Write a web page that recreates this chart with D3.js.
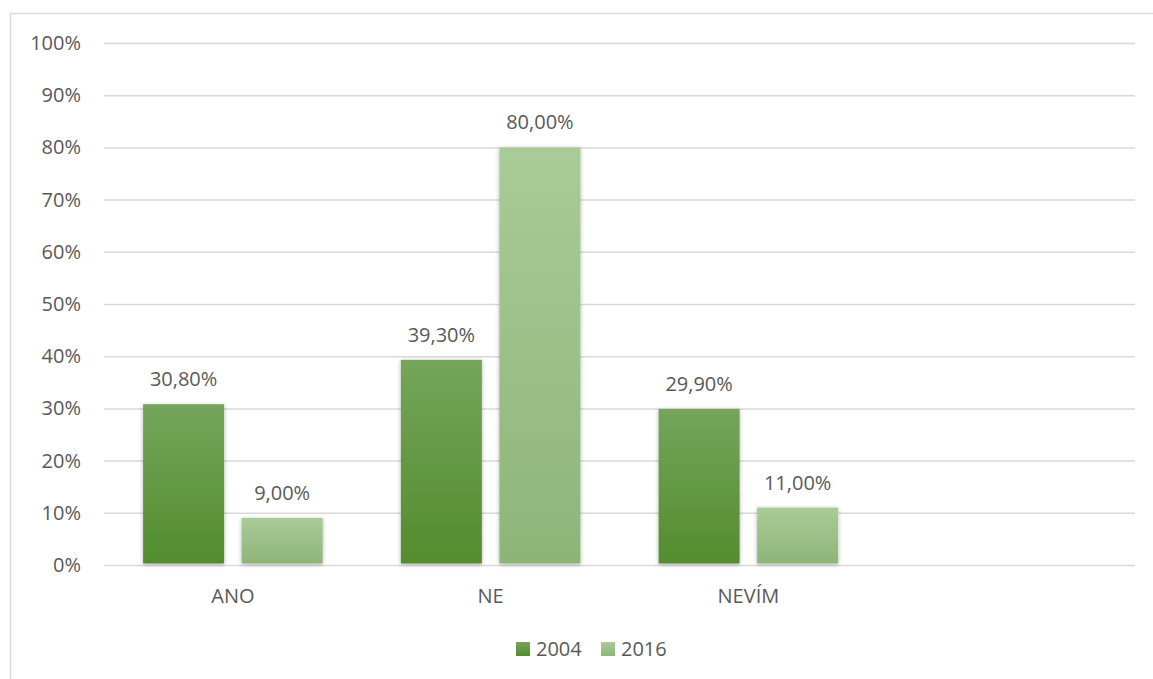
<!DOCTYPE html>
<html>
<head>
<meta charset="utf-8">
<script src="https://cdn.jsdelivr.net/npm/d3@7"></script>
<style>
  html, body { margin: 0; padding: 0; background: #fff; }
  svg { display: block; font-family: "Open Sans", "Noto Sans", sans-serif; }
</style>
</head>
<body>
<svg id="chart" width="1153" height="679"></svg>
<script>
const categories = ["ANO", "NE", "NEVÍM", ""];
const seriesNames = ["2004", "2016"];
const values2004 = [30.8, 39.3, 29.9, null];
const values2016 = [9.0, 80.0, 11.0, null];
const yTicks = [0, 10, 20, 30, 40, 50, 60, 70, 80, 90, 100];

const svg = d3.select("#chart");
const W = 1153, H = 679;
const textColor = "#595959";
const gridColor = "#d9d9d9";
const fontSize = 20;

// border of chart area
svg.append("rect").attr("x", 10.5).attr("y", 13.5).attr("width", W).attr("height", H)
  .attr("fill", "none").attr("stroke", gridColor).attr("stroke-width", 1.5);

const margin = { left: 104, right: 1135, top: 43, bottom: 565 };
const x = d3.scaleBand().domain(categories.map((c, i) => i)).range([margin.left, margin.right]).paddingInner(0).paddingOuter(0);
const y = d3.scaleLinear().domain([0, 100]).range([margin.bottom, margin.top]);

const defs = svg.append("defs");
const g1 = defs.append("linearGradient").attr("id", "grad2004").attr("x1", 0).attr("y1", 0).attr("x2", 0).attr("y2", 1);
g1.append("stop").attr("offset", "0%").attr("stop-color", "#74a55b");
g1.append("stop").attr("offset", "100%").attr("stop-color", "#548c2e");
const g2 = defs.append("linearGradient").attr("id", "grad2016").attr("x1", 0).attr("y1", 0).attr("x2", 0).attr("y2", 1);
g2.append("stop").attr("offset", "0%").attr("stop-color", "#a9cb98");
g2.append("stop").attr("offset", "100%").attr("stop-color", "#8db578");
const f = defs.append("filter").attr("id", "shadow").attr("x", "-20%").attr("y", "-10%").attr("width", "140%").attr("height", "120%");
f.append("feDropShadow").attr("dx", 0).attr("dy", 1).attr("stdDeviation", 2.2).attr("flood-color", "#000").attr("flood-opacity", 0.3);

// y axis with gridlines
const yAxis = d3.axisLeft(y).tickValues(yTicks).tickSize(-(margin.right - margin.left)).tickFormat(d => d + "%");
const ya = svg.append("g").attr("transform", `translate(${margin.left},0)`).call(yAxis);
ya.select(".domain").remove();
ya.selectAll(".tick line").attr("stroke", gridColor).attr("stroke-width", 1.5);
ya.selectAll(".tick text").attr("x", -23).attr("fill", textColor).attr("font-size", fontSize).attr("font-family", "'Open Sans', sans-serif");

// x axis
const xAxis = d3.axisBottom(x).tickSize(0).tickFormat(i => categories[i]);
const xa = svg.append("g").attr("transform", `translate(0,${margin.bottom})`).call(xAxis);
xa.select(".domain").remove();
xa.selectAll(".tick text").attr("y", 32).attr("dy", "0.32em").attr("fill", textColor).attr("font-size", fontSize).attr("font-family", "'Open Sans', sans-serif");

const x1 = d3.scaleBand().domain(seriesNames).range([0, x.bandwidth()]).paddingInner(0.178).paddingOuter(0.397);

const data = [];
categories.forEach((c, i) => {
  [values2004[i], values2016[i]].forEach((v, j) => {
    if (v != null) data.push({ cat: i, series: seriesNames[j], value: v });
  });
});

const bars = svg.append("g");
bars.selectAll("rect").data(data).join("rect")
  .attr("x", d => x(d.cat) + x1(d.series))
  .attr("width", x1.bandwidth())
  .attr("y", d => y(d.value))
  .attr("height", d => y(0) - y(d.value) - 1.5)
  .attr("fill", d => d.series === "2004" ? "url(#grad2004)" : "url(#grad2016)")
  .attr("filter", "url(#shadow)");

svg.append("g").selectAll("text").data(data).join("text")
  .attr("x", d => x(d.cat) + x1(d.series) + x1.bandwidth() / 2)
  .attr("y", d => y(d.value) - 18)
  .attr("text-anchor", "middle")
  .attr("fill", textColor).attr("font-size", fontSize)
  .text(d => d.value.toFixed(2).replace(".", ",") + "%");

// legend
const legend = svg.append("g");
const legendItems = [
  { name: "2004", fill: "url(#grad2004)", x: 516 },
  { name: "2016", fill: "url(#grad2016)", x: 601 }
];
legendItems.forEach(it => {
  legend.append("rect").attr("x", it.x).attr("y", 642).attr("width", 14).attr("height", 14).attr("fill", it.fill);
  legend.append("text").attr("x", it.x + 20).attr("y", 649).attr("dy", "0.35em")
    .attr("fill", textColor).attr("font-size", fontSize).text(it.name);
});
</script>
</body>
</html>
